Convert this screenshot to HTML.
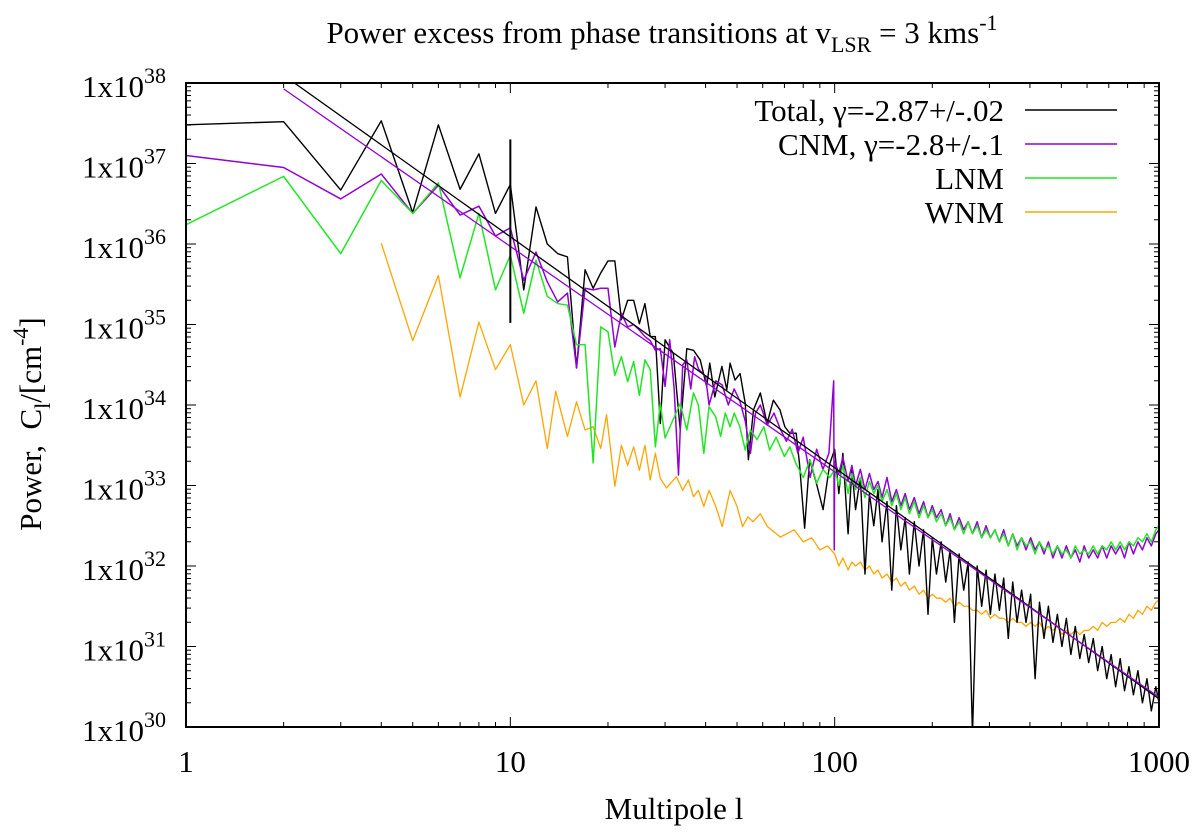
<!DOCTYPE html>
<html><head><meta charset="utf-8"><title>Power excess chart</title>
<style>
html,body{margin:0;padding:0;background:#fff;}
svg{display:block;font-family:"Liberation Serif",serif;}
</style></head>
<body>
<svg id="chart" width="1200" height="835" viewBox="0 0 1200 835" xmlns="http://www.w3.org/2000/svg">
<defs><clipPath id="plotclip"><rect x="186" y="83" width="973" height="644"/></clipPath></defs>
<text x="662" y="43" font-size="31" text-anchor="middle">Power excess from phase transitions at v<tspan font-size="22" dy="9">LSR</tspan><tspan dy="-9"> = 3 kms</tspan><tspan font-size="22" dy="-13">-1</tspan></text>
<text transform="translate(41,424) rotate(-90)" font-size="31" text-anchor="middle" xml:space="preserve">Power,  C<tspan font-size="22" dy="9">l</tspan><tspan dy="-9">/[cm</tspan><tspan font-size="22" dy="-13">-4</tspan><tspan dy="13">]</tspan></text>
<text x="674" y="819" font-size="31" text-anchor="middle">Multipole l</text>
<g id="grid-ticks"></g>
<g id="series" clip-path="url(#plotclip)"></g>
<rect x="186" y="83" width="973" height="644" fill="none" stroke="#000" stroke-width="2"/>
<g id="legend"></g>
</svg>
<script>
// ---- data (values are log10 of power) ----
const xTickValues = [1, 10, 100, 1000];
const xTickLabels = ["1", "10", "100", "1000"];
const yTickExponents = [30, 31, 32, 33, 34, 35, 36, 37, 38];

const totalLowL = [1,2,3,4,5,6,7,8,9,10,11,12,13,14,15,16,17,18,19,20,21,22,23,24,25,26,27,28,29,30,31.8,33.4,35,36.7,38.5,40.3,41.2,42.7,44.9,46.5,47.6,49.3,51.1,53,54.2,56.2,59,61.9,64.7,67.8,70.2,72.7,76.1,77.9,80.8,83.7,87.8,92.1,96.6];
const totalLowV = [37.48,37.52,36.67,37.53,36.39,37.48,36.68,37.12,36.38,36.74,35.43,36.46,36.0,35.88,35.84,34.46,35.68,35.45,35.64,35.79,35.79,35.06,35.3,35.3,35.01,35.26,34.85,34.85,33.77,34.81,34.64,33.69,34.7,34.68,34.56,34.23,34.52,34.1,34.48,34.19,34.52,34.31,34.39,34.02,33.32,33.94,34.15,33.77,34.06,33.94,33.73,33.65,33.65,33.27,32.47,33.32,33.03,32.7,33.27];

const cnmLowL = [1,2,3,4,5,6,7,8,9,10,11,12,13,14,15,16,17,18,19,20,21,22,23,24,25,26,27,28,29,30,31,32,33,34,35,36,37,38,40,41,43,45,47,49,51,53,55,57,59,62,65,68,71,74,77,80,84,88,92,96,99.3,99.7];
const cnmLowV = [37.1,36.95,36.56,36.87,36.38,36.73,36.36,36.47,36.1,36.2,35.55,35.9,35.53,35.28,35.39,34.46,35.45,35.43,35.45,35.45,34.72,35.14,34.97,35.0,34.93,34.85,34.8,34.68,34.7,34.23,34.81,34.2,33.13,34.5,34.56,34.2,34.6,34.45,34.35,34.0,34.3,34.25,34.0,34.2,34.05,33.8,33.4,33.9,34.0,33.75,33.9,33.7,33.55,33.7,33.4,33.6,33.1,33.45,33.2,33.4,34.3,32.2];

const lnmLowL = [1,2,3,4,5,6,7,8,9,10,11,12,13,14,15,16,17,18,19,20,21,22,23,24,25,26,27,28,29,30,33.4,35,36.7,38,39.5,41,43,44.5,46,47.6,49,51,53,55,57.6,60.5,63,66,70,72.7,76,80,84,88,92,96.6];
const lnmLowV = [36.24,36.84,35.88,36.79,36.38,36.76,35.58,36.38,35.43,35.86,35.14,35.8,35.35,35.26,35.24,34.75,34.75,33.28,34.97,34.91,34.37,34.6,34.29,34.54,34.12,34.56,34.44,33.48,34.02,33.59,34.02,33.69,34.15,34.0,33.4,33.98,33.85,33.61,33.9,33.73,33.9,33.73,33.44,33.69,33.57,33.73,33.44,33.6,33.36,33.48,33.27,33.1,33.32,33.03,33.2,33.1];

const wnmLowL = [4,5,6,7,8,9,10,11,12,13,13.8,15,16,17,18,19,19.8,21,22,23,24,25,26,27,28,29,30.3,32.5,34,35.4,36.7,38,39.5,41,43,45,47.6,50,52,54,56,59,62,68,75,80,85,90,95];
const wnmLowV = [36.01,34.8,35.61,34.1,35.03,34.44,34.75,34.0,34.3,33.46,34.17,33.61,34.04,33.69,33.73,33.46,33.88,32.99,33.5,33.25,33.48,33.19,33.5,33.07,33.4,33.09,32.97,33.11,32.94,33.07,32.86,32.94,32.74,32.94,32.74,32.49,32.94,32.74,32.49,32.61,32.55,32.65,32.49,32.36,32.45,32.3,32.35,32.2,32.25];

const denseL = [100,103,106,110,113,116,120,124,128,132,136,140,145,150,155,160,165,170,176,182,188,194,200,206,213,220,227,234,242,250,258,266,275,284,293,302,312,322,332,343,354,365,377,389,402,415,428,442,456,471,486,502,518,535,552,570,588,607,627,647,668,690,712,735,759,783,808,834,861,889,918,947,978,1000];
const totalDenseV = [33.45,32.9,33.4,32.4,33.2,32.7,33.1,31.9,32.9,32.5,32.95,32.3,32.8,31.7,32.75,32.2,32.6,31.9,32.55,32.0,32.45,31.4,32.35,31.9,32.3,31.8,32.2,31.3,32.15,31.7,32.05,29.9,32.0,31.5,31.95,31.4,31.9,31.45,31.85,31.1,31.8,31.3,31.7,31.3,31.65,30.6,31.55,31.1,31.5,31.05,31.4,31.0,31.35,30.9,31.25,30.85,31.15,30.8,31.1,30.7,31.0,30.6,30.9,30.5,30.85,30.45,30.75,30.4,30.7,30.3,30.6,30.2,30.5,30.3];
const cnmDenseV = [33.3,33.15,33.35,33.05,33.25,33.0,33.2,32.95,33.15,32.95,33.05,32.85,33.1,32.8,32.95,32.75,32.9,32.7,32.85,32.65,32.8,32.6,32.75,32.6,32.7,32.5,32.65,32.45,32.6,32.45,32.55,32.4,32.55,32.35,32.5,32.35,32.45,32.3,32.45,32.25,32.4,32.25,32.35,32.2,32.35,32.2,32.3,32.15,32.3,32.1,32.25,32.1,32.25,32.1,32.2,32.05,32.25,32.1,32.2,32.1,32.25,32.1,32.25,32.15,32.25,32.1,32.3,32.15,32.3,32.2,32.35,32.25,32.4,32.45];
const lnmDenseV = [33.2,33.0,33.25,32.9,33.15,32.95,33.1,32.85,33.05,32.9,33.0,32.8,32.95,32.75,32.9,32.7,32.85,32.65,32.8,32.6,32.75,32.6,32.7,32.55,32.65,32.5,32.6,32.45,32.55,32.4,32.55,32.4,32.5,32.35,32.45,32.35,32.45,32.3,32.4,32.25,32.4,32.2,32.35,32.25,32.3,32.15,32.3,32.2,32.25,32.15,32.25,32.15,32.2,32.1,32.25,32.15,32.2,32.15,32.25,32.15,32.25,32.2,32.3,32.2,32.3,32.2,32.3,32.25,32.35,32.3,32.4,32.3,32.45,32.5];
const wnmDenseV = [32.15,32.0,32.1,31.95,32.05,32.0,32.05,31.95,32.0,31.9,31.95,31.85,31.9,31.8,31.85,31.75,31.8,31.7,31.75,31.65,31.7,31.6,31.65,31.6,31.6,31.55,31.6,31.5,31.55,31.5,31.5,31.45,31.45,31.4,31.45,31.35,31.4,31.35,31.35,31.3,31.35,31.3,31.3,31.25,31.3,31.25,31.3,31.2,31.25,31.2,31.25,31.15,31.2,31.15,31.2,31.15,31.2,31.2,31.25,31.2,31.3,31.25,31.3,31.3,31.35,31.3,31.4,31.35,31.45,31.4,31.5,31.45,31.55,31.58];

const fitTotal = [38.96, -2.87, 1, 1000];   // intercept, slope, lmin, lmax
const fitCnm = [38.77, -2.8, 2, 1000];
const errBarL = [10];
const errBarLo = [35.02];
const errBarHi = [37.3];

const legendLabels = ["Total, γ=-2.87+/-.02", "CNM, γ=-2.8+/-.1", "LNM", "WNM"];

// ---- axes ----
const X0 = 186, X1 = 1159, Y0 = 727, Y1 = 83;
function xs(l){ return X0 + Math.log10(l) / 3 * (X1 - X0); }
function ys(e){ return Y0 - (e - 30) / 8 * (Y0 - Y1); }
const NS = "http://www.w3.org/2000/svg";
function mk(tag, attrs, parent){ const el = document.createElementNS(NS, tag); for (const k in attrs) el.setAttribute(k, attrs[k]); parent.appendChild(el); return el; }

const tickG = document.getElementById('grid-ticks');
for (let d = 0; d < 3; d++) {
  for (let m = 2; m <= 9; m++) {
    const x = xs(Math.pow(10, d) * m);
    const t1 = mk('line', {x1:x, y1:Y0, x2:x, y2:Y0-5, stroke:'#000', 'stroke-width':1}, tickG);
    
    
    const t2 = mk('line', {x1:x, y1:Y1, x2:x, y2:Y1+5, stroke:'#000', 'stroke-width':1}, tickG);
    
    
  }
}
xTickValues.forEach((v, i) => {
  const x = xs(v);
  const t = mk('line', {x1:x, y1:Y0, x2:x, y2:Y0-10, stroke:'#000', 'stroke-width':1}, tickG);
  
  
  const t2 = mk('line', {x1:x, y1:Y1, x2:x, y2:Y1+10, stroke:'#000', 'stroke-width':1}, tickG);
  
  
  const lab = mk('text', {x:x, y:772, 'font-size':31, 'text-anchor':'middle'}, tickG);
  
  
  lab.textContent = xTickLabels[i];
});
yTickExponents.forEach(e => {
  const y = ys(e);
  const t = mk('line', {x1:X0, y1:y, x2:X0+10, y2:y, stroke:'#000', 'stroke-width':1}, tickG);
  
  
  const t2 = mk('line', {x1:X1, y1:y, x2:X1-10, y2:y, stroke:'#000', 'stroke-width':1}, tickG);
  
  
  const lab = mk('text', {x:166, y:y+14, 'font-size':31, 'text-anchor':'end'}, tickG);
  
  
  lab.appendChild(document.createTextNode('1x10'));
  const sup = mk('tspan', {'font-size':22, dy:-14}, lab);
  sup.textContent = String(e);
  if (e < 38) {
    for (let m = 2; m <= 9; m++) {
      const yy = ys(e + Math.log10(m));
      const a = mk('line', {x1:X0, y1:yy, x2:X0+5, y2:yy, stroke:'#000', 'stroke-width':1}, tickG);
      
      
      const b = mk('line', {x1:X1, y1:yy, x2:X1-5, y2:yy, stroke:'#000', 'stroke-width':1}, tickG);
      
      
    }
  }
});

// ---- series ----
const sg = document.getElementById('series');
function path(ls, vs, color, width, name){
  const n = Math.min(ls.length, vs.length);
  let d = '';
  for (let i = 0; i < n; i++) d += (i ? 'L' : 'M') + xs(ls[i]).toFixed(2) + ',' + ys(vs[i]).toFixed(2);
  const p = mk('path', {d:d, fill:'none', stroke:color, 'stroke-width':width, 'stroke-linejoin':'round'}, sg);
  
  
  return p;
}
const C_TOTAL = '#000000', C_CNM = '#9400d3', C_LNM = '#22e622', C_WNM = '#ffa500';
path(wnmLowL.concat(denseL), wnmLowV.concat(wnmDenseV), C_WNM, 1.3, 'wnm-line');
path(totalLowL.concat(denseL), totalLowV.concat(totalDenseV), C_TOTAL, 1.4, 'total-line');
path(cnmLowL.concat(denseL), cnmLowV.concat(cnmDenseV), C_CNM, 1.5, 'cnm-line');
path(lnmLowL.concat(denseL), lnmLowV.concat(lnmDenseV), C_LNM, 1.5, 'lnm-line');
function fit(params, color, name){
  const l0 = params[2], l1 = params[3];
  path([l0, l1], [params[0] + params[1]*Math.log10(l0), params[0] + params[1]*Math.log10(l1)], color, 1.3, name);
}
fit(fitTotal, C_TOTAL, 'total-fit-line');
fit(fitCnm, C_CNM, 'cnm-fit-line');
errBarL.forEach((l, i) => {
  const e = mk('line', {x1:xs(l), x2:xs(l), y1:ys(errBarLo[i]), y2:ys(errBarHi[i]), stroke:'#000', 'stroke-width':2}, sg);
  
  
});

// ---- legend ----
const lg = document.getElementById('legend');
const legendColors = [C_TOTAL, C_CNM, C_LNM, C_WNM];
legendLabels.forEach((lab, i) => {
  const y = 110 + i * 34;
  const t = mk('text', {x:1004, y:y+11, 'font-size':31, 'text-anchor':'end'}, lg);
  
  
  t.textContent = lab;
  const ln = mk('line', {x1:1025, x2:1117, y1:y, y2:y, stroke:legendColors[i], 'stroke-width':1.5}, lg);
  
  
});
</script>
</body></html>
